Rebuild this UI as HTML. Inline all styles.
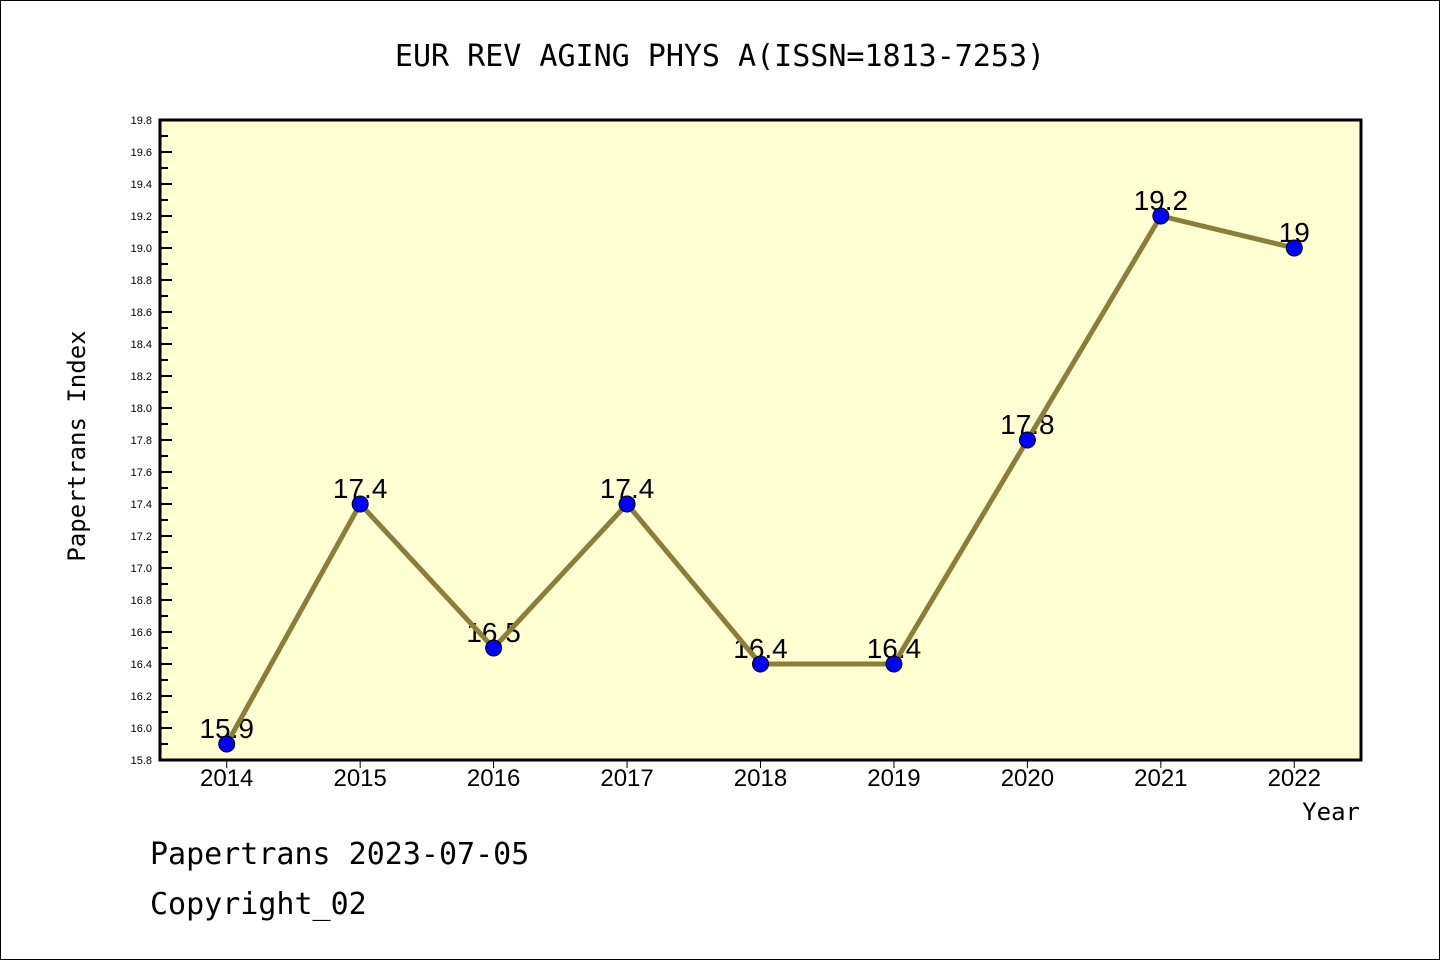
<!DOCTYPE html>
<html><head><meta charset="utf-8"><style>
body{margin:0;background:#fff;}
svg{display:block;font-family:"Liberation Sans","DejaVu Sans",sans-serif;}
</style></head><body>
<svg id="chart" width="1440" height="960" viewBox="0 0 1440 960" xmlns="http://www.w3.org/2000/svg">
<rect x="0.5" y="0.5" width="1439" height="959" fill="#fff" stroke="#000" stroke-width="1"/>
<text x="720" y="66" text-anchor="middle" font-size="30" font-family="DejaVu Sans Mono, Liberation Mono, monospace">EUR REV AGING PHYS A(ISSN=1813-7253)</text>
<rect x="160" y="120" width="1201" height="640" fill="#ffffd2"/>
<g id="yticks"></g>
<g id="xticks"></g>
<g id="labels"></g>
<g id="series"></g>
<rect x="160" y="120" width="1201" height="640" fill="none" stroke="#000" stroke-width="3"/>
<text transform="translate(85,446) rotate(-90)" text-anchor="middle" font-size="24" font-family="DejaVu Sans Mono, Liberation Mono, monospace">Papertrans Index</text>
<text x="1360" y="820" text-anchor="end" font-size="24" font-family="DejaVu Sans Mono, Liberation Mono, monospace">Year</text>
<text x="150" y="864" font-size="30" font-family="DejaVu Sans Mono, Liberation Mono, monospace">Papertrans 2023-07-05</text>
<text x="150" y="914" font-size="30" font-family="DejaVu Sans Mono, Liberation Mono, monospace">Copyright_02</text>
</svg>
<script>
const years = [2014,2015,2016,2017,2018,2019,2020,2021,2022];
const values = [15.9,17.4,16.5,17.4,16.4,16.4,17.8,19.2,19.0];
const valueLabels = ["15.9","17.4","16.5","17.4","16.4","16.4","17.8","19.2","19"];
const yTicks = [15.8,16.0,16.2,16.4,16.6,16.8,17.0,17.2,17.4,17.6,17.8,18.0,18.2,18.4,18.6,18.8,19.0,19.2,19.4,19.6,19.8];
const NS="http://www.w3.org/2000/svg";
const L=160,R=1361,T=120,B=760,yMin=15.8,yMax=19.8,xMin=2013.5,xMax=2022.5;
const sx=v=>L+(v-xMin)/(xMax-xMin)*(R-L);
const sy=v=>B-(v-yMin)/(yMax-yMin)*(B-T);
function mk(tag,attrs,parent){const e=document.createElementNS(NS,tag);for(const k in attrs)e.setAttribute(k,attrs[k]);parent.appendChild(e);return e;}
const gy=document.getElementById('yticks');
yTicks.forEach((t,i)=>{
  const y=sy(t);
  const tk=mk('line',{x1:L,x2:L+12,y1:y,y2:y,stroke:'#000','stroke-width':2},gy);
  
  
  if(i<yTicks.length-1){const ym=sy(t+0.1);
    const mt=mk('line',{x1:L,x2:L+8,y1:ym,y2:ym,stroke:'#000','stroke-width':2},gy);
    
    }
  const tx=mk('text',{x:L-8,y:y+4,'text-anchor':'end','font-size':11},gy);
  
  
  tx.textContent=t.toFixed(1);
});
const gx=document.getElementById('xticks');
years.forEach(yr=>{
  const x=sx(yr);
  const tk=mk('line',{x1:x,x2:x,y1:B,y2:B+8,stroke:'#000','stroke-width':1},gx);
  
  
  const tx=mk('text',{x:x,y:B+26,'text-anchor':'middle','font-size':24},gx);
  
  
  tx.textContent=yr;
});
const gl=document.getElementById('labels');
years.forEach((yr,i)=>{
  const tx=mk('text',{x:sx(yr),y:sy(values[i])-6,'text-anchor':'middle','font-size':28},gl);
  
  
  tx.textContent=valueLabels[i];
});
const gs=document.getElementById('series');
const ln=mk('polyline',{points:years.map((yr,i)=>sx(yr)+','+sy(values[i])).join(' '),fill:'none',stroke:'#8b7d3a','stroke-width':5,'stroke-linejoin':'round'},gs);


years.forEach((yr,i)=>{
  const c=mk('circle',{cx:sx(yr),cy:sy(values[i]),r:8,fill:'#0000ff',stroke:'#000','stroke-width':1},gs);
  
  
});
</script>
</body></html>
